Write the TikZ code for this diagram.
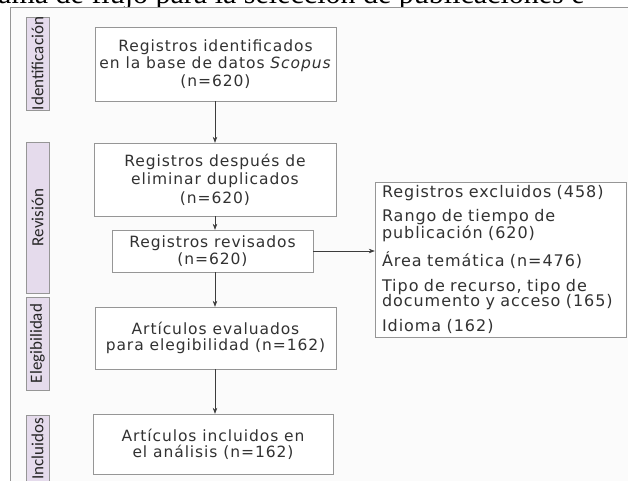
\documentclass[tikz,border=0pt]{standalone}
\usepackage{fontspec}
\usetikzlibrary{shapes.geometric, arrows.meta}
\newfontfamily\boxfont{DejaVu Sans}[LetterSpace=6]
\newfontfamily\phasefont{Carlito}
\newfontfamily\titlefont{Liberation Serif}
\definecolor{phasefill}{RGB}{229,219,236}
\definecolor{linegray}{RGB}{150,150,150}
\definecolor{textgray}{RGB}{50,50,50}
\definecolor{arrowgray}{RGB}{60,60,60}
\definecolor{paper}{RGB}{251,251,251}

\begin{document}
\begin{tikzpicture}[x=1pt, y=-1pt]
        \tikzstyle{proc} = [rectangle, draw=linegray, fill=white, text=textgray, align=center, inner sep=0pt]
        \tikzstyle{phase} = [rectangle, draw=linegray, fill=phasefill, text=black!85, minimum height=23pt, inner sep=0pt, rotate=90, font=\phasefont\fontsize{17}{18}\selectfont]
        \tikzstyle{arrow} = [arrowgray, line width=0.6pt, ->, >={Stealth[length=6pt, width=4.5pt]}]
        \useasboundingbox (0,0) rectangle (628,480);
        % titulo cortado por arriba
        \node [anchor=base west, inner sep=0pt, font=\titlefont\fontsize{30}{30}\selectfont] (title) at (-2,3.5) {ama de flujo para la selección de publicaciones e};
        \draw [linegray, fill=paper] (10,7) rectangle (660,520);
        % fases
		\node [phase, minimum width=93pt] (id) at (37.5, 63.5) {Identificación};
		\node [phase, minimum width=151pt] (rev) at (37.5, 217.5) {Revisión};
		\node [phase, minimum width=93pt] (el) at (37.5, 343.5) {Elegibilidad};
		\node [phase, minimum width=85pt, text width=79pt, align=right] (inc) at (37.5, 457.5) {Incluidos};
        % cajas
		\node [proc, minimum width=241pt, minimum height=74pt, font=\boxfont\fontsize{15.5}{17.5}\selectfont] (1) at (215.5, 64) {Registros identificados\\en la base de datos \textit{Scopus}\\(n=620)};
		\node [proc, minimum width=242pt, minimum height=73pt, font=\boxfont\fontsize{15.5}{18.5}\selectfont] (2) at (215, 179.5) {Registros después de\\eliminar duplicados\\(n=620)};
		\node [proc, minimum width=201pt, minimum height=42pt, font=\boxfont\fontsize{15.5}{17}\selectfont] (3) at (212.5, 251) {Registros revisados\\(n=620)};
		\node [proc, minimum width=241pt, minimum height=62pt, font=\boxfont\fontsize{15.5}{15.5}\selectfont] (4) at (215.5, 338) {Artículos evaluados\\para elegibilidad (n=162)};
		\node [proc, minimum width=240pt, minimum height=60pt, font=\boxfont\fontsize{15.5}{16}\selectfont] (5) at (213, 444) {Artículos incluidos en\\el análisis (n=162)};
		\node [proc, align=left, text width=237pt, minimum width=251pt, minimum height=155pt, font=\boxfont\fontsize{16}{15.5}\selectfont] (6) at (500.5, 259.5) {Registros excluidos (458)\\[8pt]Rango de tiempo de\\publicación (620)\\[9pt]Área temática (n=476)\\[9pt]Tipo de recurso, tipo de\\documento y acceso (165)\\[9pt]Idioma (162)};
		\coordinate (spine) at (215, 0);
		\draw[arrow] (1.south -| spine) to (2.north -| spine);
		\draw[arrow] (2.south -| spine) to (3.north -| spine);
		\draw[arrow] (3.south -| spine) to (4.north -| spine);
		\draw[arrow] (4.south -| spine) to (5.north -| spine);
		\draw[arrow] (3.east) to (3.east -| 6.west);
    \end{tikzpicture}
\end{document}
